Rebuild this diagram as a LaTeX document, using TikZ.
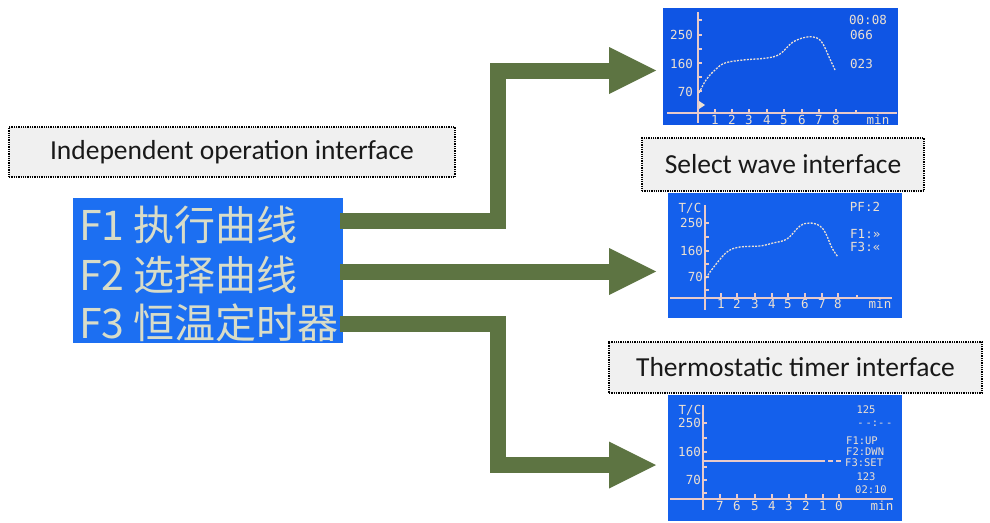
\documentclass[tikz,border=0pt]{standalone}
\usepackage{fontspec}
\setmainfont{Carlito}
\newfontfamily\cjkfont{Noto Sans CJK SC}
\newfontfamily\lcdfont{DejaVu Sans Mono}
\definecolor{arrowgreen}{HTML}{5D7442}
\definecolor{lcdblue}{HTML}{1C6FF2}
\definecolor{scrblue}{HTML}{1460EC}
\definecolor{scrblueA}{HTML}{0F55E4}
\definecolor{scrtext}{HTML}{ECE0D2}
\definecolor{axiscol}{HTML}{E8CACA}
\definecolor{boxfill}{HTML}{F0F0F0}
\definecolor{lcdtext}{HTML}{D8DCC8}
\begin{document}
\begin{tikzpicture}[x=1pt,y=-1pt,
  screen/.style={rectangle, inner sep=0pt, outer sep=0pt, fill=scrblue},
  lablebox/.style={rectangle, draw=black, densely dotted, line width=1.3pt, fill=boxfill, inner sep=0pt, outer sep=0pt,
     font=\fontsize{27.5}{30}\selectfont, text=black!90},
  lcdline/.style={anchor=west, inner sep=0pt, text=lcdtext, font=\cjkfont\fontsize{41}{41}\selectfont},
  scrtxt/.style={inner sep=0pt, text=scrtext, font=\lcdfont\fontsize{12.5}{12.5}\selectfont},
  scrsmall/.style={scrtxt, font=\lcdfont\fontsize{10.5}{10.5}\selectfont},
  axisline/.style={draw=axiscol, line width=1.2pt},
  curve/.style={draw=scrtext, line width=1.3pt, dash pattern=on 2pt off 1.3pt},
  shaft/.style={draw=arrowgreen, line width=16pt, line join=miter},
  headfill/.style={fill=arrowgreen}]
\useasboundingbox (0,0) rectangle (990,522);

% ---------- left LCD ----------
\node[screen, fill=lcdblue, minimum width=270pt, minimum height=145pt] (lcd) at (208,270.5) {};
\node[lcdline] (f1) at (79,225) {F1 执行曲线};
\node[lcdline] (f2) at (79,275) {F2 选择曲线};
\node[lcdline] (f3) at (79,323) {F3 恒温定时器};

% ---------- label boxes ----------
\node[lablebox, minimum width=446pt, minimum height=50pt] (ind) at (232,152) {Independent operation interface};
\node[lablebox, minimum width=282pt, minimum height=53pt] (sel) at (783,164.5) {Select wave interface};
\node[lablebox, minimum width=373pt, minimum height=51pt] (thm) at (795.5,367.5) {Thermostatic timer interface};

% ---------- screens ----------
\node[screen, fill=scrblueA, minimum width=235pt, minimum height=117pt] (scr1) at (780.5,66.5) {};
\node[screen, minimum width=234pt, minimum height=125pt] (scr2) at (785,255.5) {};
\node[screen, minimum width=234pt, minimum height=126pt] (scr3) at (785,458) {};

% ----- screen 1 -----
\draw[axisline] (698,12) -- (698,123);
\draw[axisline] (667,113) -- (897,113);
\foreach \y in {20,35,49,63,77,91,105} \draw[axisline] (698,\y) -- (702,\y);
\node[scrtxt, anchor=east] (a250) at (693,35) {250};
\node[scrtxt, anchor=east] (a160) at (693,64) {160};
\node[scrtxt, anchor=east] (a70) at (693,92) {70};
\foreach \n/\x in {1/715,2/732,3/749,4/767,5/784,6/802,7/819,8/836} {
  \draw[axisline] (\x,113) -- (\x,109);
  \node[scrtxt] (ax\n) at (\x,120) {\n};
}
\draw[axisline] (856,110) -- (856,113);
\node[scrtxt] (amin) at (878,120) {min};
\fill[scrtext] (699,101) -- (705,105) -- (699,109) -- cycle;
\node[scrtxt] (atime) at (868,20) {00:08};
\node[scrtxt, anchor=west] (a066) at (850,35) {066};
\node[scrtxt, anchor=west] (a023) at (850,64) {023};
\draw[curve] plot[smooth, tension=0.6] coordinates {(699,93) (706,80) (715,70) (725,63) (743,60) (767,58) (780,54) (793,42) (807,37) (817,38) (823,44) (829,57) (835,70)};

% ----- screen 2 -----
\node[scrtxt] (btc) at (690,208) {T/C};
\draw[axisline] (705,205) -- (705,310);
\draw[axisline] (670,298) -- (892,298);
\foreach \y in {223,237,251,264,277,290} \draw[axisline] (705,\y) -- (709,\y);
\node[scrtxt, anchor=east] (b250) at (703,223) {250};
\node[scrtxt, anchor=east] (b160) at (703,251) {160};
\node[scrtxt, anchor=east] (b70) at (703,277) {70};
\foreach \n/\x in {1/721,2/737,3/755,4/772,5/788,6/805,7/822,8/838} {
  \draw[axisline] (\x,298) -- (\x,293);
  \node[scrtxt] (bx\n) at (\x,304) {\n};
}
\draw[axisline] (857,295) -- (857,298);
\node[scrtxt] (bmin) at (880,304) {min};
\node[scrtxt] (bpf) at (865,207) {PF:2};
\node[scrtxt, anchor=west] (bf1) at (850,234) {F1:»};
\node[scrtxt, anchor=west] (bf3) at (850,247) {F3:«};
\draw[curve] plot[smooth, tension=0.6] coordinates {(706,278) (713,268) (727,252) (740,247) (760,246) (773,243) (787,239) (800,226) (810,223) (820,226) (826,234) (832,248) (838,257)};

% ----- screen 3 -----
\node[scrtxt] (ctc) at (690,410) {T/C};
\draw[axisline] (703,405) -- (703,510);
\draw[axisline] (670,499) -- (893,499);
\foreach \y in {423,438,452,467,480,493} \draw[axisline] (703,\y) -- (707,\y);
\node[scrtxt, anchor=east] (c250) at (701,423) {250};
\node[scrtxt, anchor=east] (c160) at (701,452) {160};
\node[scrtxt, anchor=east] (c70) at (701,480) {70};
\foreach \n/\x in {7/720,6/737,5/755,4/772,3/789,2/806,1/823,0/839} {
  \draw[axisline] (\x,499) -- (\x,494);
  \node[scrtxt] (cx\n) at (\x,506) {\n};
}
\node[scrtxt] (cmin) at (882,506) {min};
\draw[axisline] (703,461) -- (825,461);
\draw[axisline] (828,461) -- (833,461) (836,461) -- (841,461);
\node[scrsmall] (c125) at (866,410) {125};
\node[scrsmall] (cdash) at (875,424) {-\,-:-\,-};
\node[scrsmall, anchor=west] (cup) at (846,440.5) {F1:UP};
\node[scrsmall, anchor=west] (cdwn) at (846,451.5) {F2:DWN};
\node[scrsmall, anchor=west] (cset) at (845,462.5) {F3:SET};
\node[scrsmall] (c123) at (866,477) {123};
\node[scrsmall, anchor=west] (ctime) at (855,490) {02:10};

% ---------- arrows ----------
\coordinate (s1) at (lcd.east |- 0,221);
\coordinate (s2) at (lcd.east |- 0,271.5);
\coordinate (s3) at (lcd.east |- 0,323.5);
\coordinate (e1) at ([xshift=-7pt]scr1.west |- 0,70.5);
\coordinate (e2) at ([xshift=-12pt]scr2.west |- 0,271.5);
\coordinate (e3) at ([xshift=-12pt]scr3.west |- 0,465);

\draw[shaft] ([xshift=-3pt]s1) -- ++(158,0) |- ([xshift=-46pt]e1);
\fill[headfill] (e1) -- ++(-47,-23.5) -- ++(0,47) -- cycle;
\draw[shaft] ([xshift=-3pt]s2) -- ([xshift=-46pt]e2);
\fill[headfill] (e2) -- ++(-47,-23.5) -- ++(0,47) -- cycle;
\draw[shaft] ([xshift=-3pt]s3) -- ++(158,0) |- ([xshift=-46pt]e3);
\fill[headfill] (e3) -- ++(-47,-23.5) -- ++(0,47) -- cycle;
\end{tikzpicture}
\end{document}
